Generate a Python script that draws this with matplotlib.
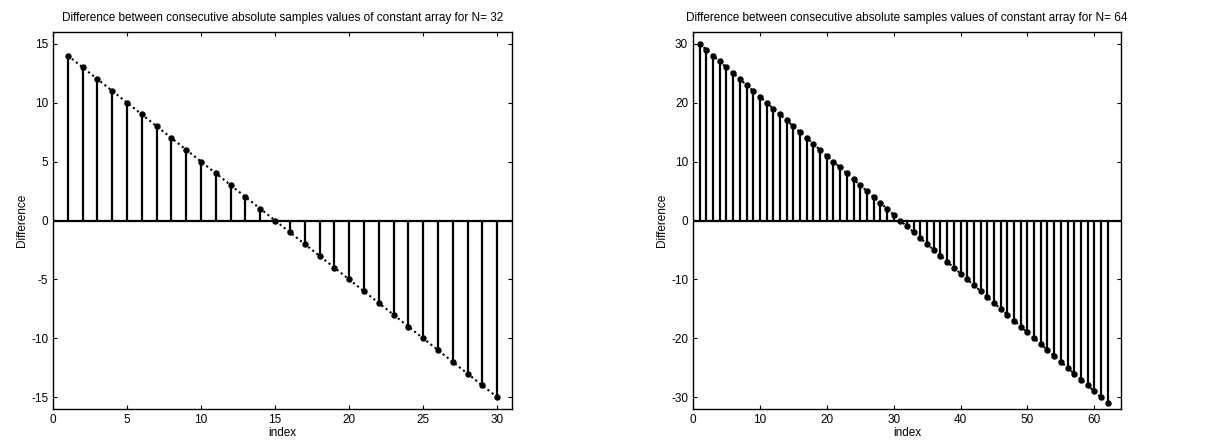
import matplotlib
matplotlib.use('Agg')
import matplotlib.pyplot as plt
import numpy as np

plt.rcParams['font.family'] = ['Liberation Sans', 'DejaVu Sans']
plt.rcParams['font.size'] = 8.5
plt.rcParams['axes.unicode_minus'] = False

# data: difference between consecutive absolute samples
idx32 = np.arange(1, 31)
diff32 = [14, 13, 12, 11, 10, 9, 8, 7, 6, 5, 4, 3, 2, 1, 0,
          -1, -2, -3, -4, -5, -6, -7, -8, -9, -10, -11, -12, -13, -14, -15]
idx64 = np.arange(1, 63)
diff64 = [30, 29, 28, 27, 26, 25, 24, 23, 22, 21, 20, 19, 18, 17, 16, 15,
          14, 13, 12, 11, 10, 9, 8, 7, 6, 5, 4, 3, 2, 1, 0,
          -1, -2, -3, -4, -5, -6, -7, -8, -9, -10, -11, -12, -13, -14, -15,
          -16, -17, -18, -19, -20, -21, -22, -23, -24, -25, -26, -27, -28,
          -29, -30, -31]

fig = plt.figure(figsize=(12.22, 4.47), dpi=100)
W, H = 1222, 447
ax1 = fig.add_axes([53 / W, 1 - 409 / H, (512 - 53) / W, (409 - 32) / H])
ax2 = fig.add_axes([693 / W, 1 - 409 / H, (1121 - 693) / W, (409 - 32) / H])

panels = [
    (ax1, idx32, diff32, 32, (0, 31), (-16, 16), np.arange(0, 31, 5), np.arange(-15, 16, 5)),
    (ax2, idx64, diff64, 64, (0, 64), (-32, 32), np.arange(0, 61, 10), np.arange(-30, 31, 10)),
]

for ax, x, y, n, xl, yl, xt, yt in panels:
    ax.vlines(x, 0, y, colors='black', linewidth=1.6)
    ax.axhline(0, color='black', linewidth=1.6)
    ax.plot(x, y, linestyle=(0, (1, 1.5)), color='black', linewidth=1.5,
            marker='o', markersize=3.6, markerfacecolor='black')
    ax.set_xlim(*xl)
    ax.set_ylim(*yl)
    ax.set_xticks(xt)
    ax.set_yticks(yt)
    ax.tick_params(direction='in', top=True, right=True, length=3, width=0.8)
    for s in ax.spines.values():
        s.set_linewidth(1.0)
    ax.set_title('Difference between consecutive absolute samples values of constant array for N= %d' % n,
                 fontsize=8.5, pad=8)
    ax.set_xlabel('index', labelpad=1)
    ax.set_ylabel('Difference', labelpad=2)

fig.savefig('out.png', dpi=100)
